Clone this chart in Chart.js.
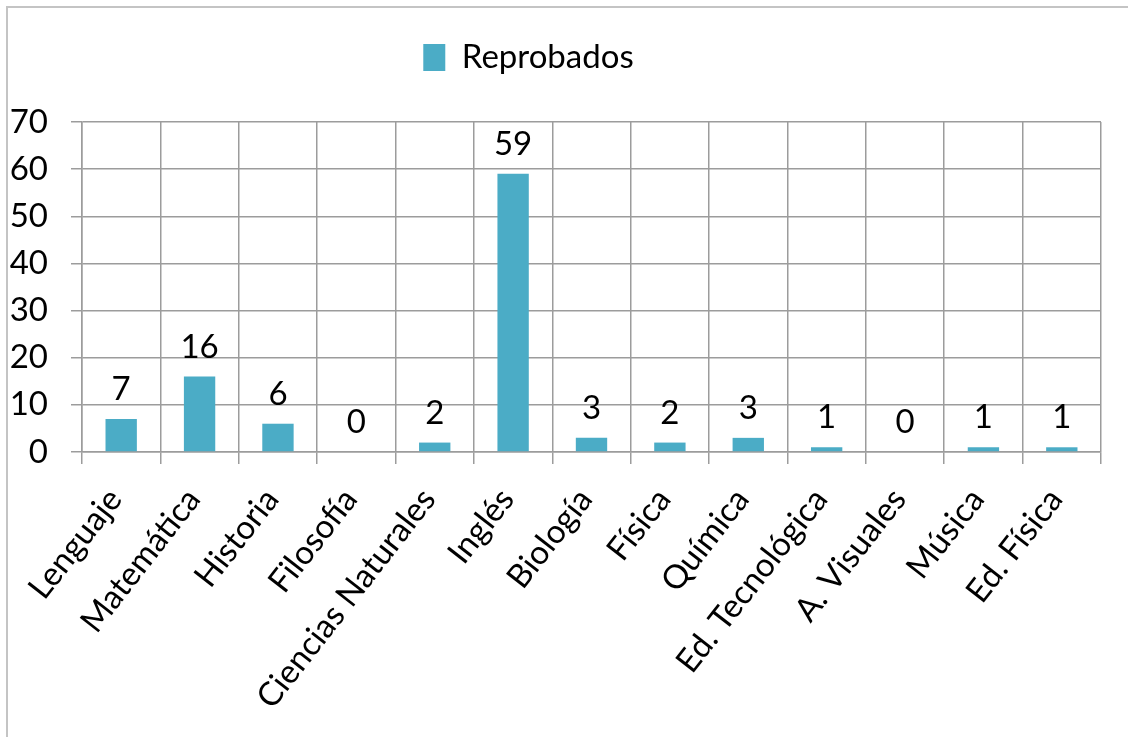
<!DOCTYPE html>
<html>
<head>
<meta charset="utf-8">
<script src="https://cdn.jsdelivr.net/npm/chart.js@4.4.1/dist/chart.umd.min.js"></script>
<style>
  body { margin: 0; background: #fff; }
  #wrap { position: relative; width: 1128px; height: 737px; overflow: hidden; }
  #frame { position: absolute; left: 6px; top: 6px; width: 1200px; height: 800px;
           border-left: 2px solid #c4c4c4; border-top: 2px solid #c4c4c4; }
  canvas { position: absolute; left: 0; top: 0; }
</style>
</head>
<body>
<div id="wrap">
  <div id="frame"></div>
  <canvas id="chart" width="1128" height="737"></canvas>
</div>
<script>
// Asignaturas y cantidad de reprobados
var subjects = ['Lenguaje', 'Matemática', 'Historia', 'Filosofía', 'Ciencias Naturales', 'Inglés',
                'Biología', 'Física', 'Química', 'Ed. Tecnológica', 'A. Visuales', 'Música', 'Ed. Física'];
var failed = [7, 16, 6, 0, 2, 59, 3, 2, 3, 1, 0, 1, 1];
var seriesName = 'Reprobados';
var yTicks = [0, 10, 20, 30, 40, 50, 60, 70];

var fontFamily = "'Lato', sans-serif";
var barColor = '#4BACC6';
var gridColor = '#9c9c9c';

// draws the number above each bar
var valueLabels = {
    id: 'valueLabels',
    afterDatasetsDraw: function (chart) {
        var ctx = chart.ctx;
        var meta = chart.getDatasetMeta(0);
        ctx.save();
        ctx.font = '33px ' + fontFamily;
        ctx.fillStyle = '#000';
        ctx.textAlign = 'center';
        ctx.textBaseline = 'alphabetic';
        meta.data.forEach(function (bar, i) {
            ctx.fillText(String(failed[i]), bar.x, bar.y - 19);
        });
        ctx.restore();
    }
};

// legend: a bit left of the centre, and more room under it
var legendTweak = {
    id: 'legendTweak',
    beforeLayout: function (chart) {
        var lg = chart.legend;
        if (lg && !lg._patched) {
            var fit = lg.fit;
            lg.fit = function () {
                fit.call(this);
                this.height += 38;
            };
            lg._patched = true;
        }
    },
    afterLayout: function (chart) {
        chart.legend.left -= 22;
        chart.legend.right -= 22;
    }
};

document.addEventListener('DOMContentLoaded', function () {
    var ctx = document.getElementById('chart').getContext('2d');
    new Chart(ctx, {
        type: 'bar',
        data: {
            labels: subjects,
            datasets: [{
                label: seriesName,
                data: failed,
                backgroundColor: barColor,
                borderWidth: 0,
                barPercentage: 0.4,
                categoryPercentage: 1.0
            }]
        },
        options: {
            responsive: false,
            animation: false,
            layout: { padding: { top: 6, right: 27, left: 0, bottom: 0 } },
            plugins: {
                tooltip: { enabled: false },
                legend: {
                    position: 'top',
                    labels: {
                        color: '#000',
                        font: { family: fontFamily, size: 33 },
                        boxWidth: 22,
                        boxHeight: 27,
                        padding: 35
                    }
                }
            },
            scales: {
                x: {
                    grid: { color: gridColor, lineWidth: 1.5, tickLength: 12, offset: true },
                    border: { color: gridColor, width: 1.5 },
                    ticks: {
                        color: '#000',
                        font: { family: fontFamily, size: 33 },
                        minRotation: 52,
                        maxRotation: 52,
                        padding: 17,
                        labelOffset: -6,
                        autoSkip: false
                    },
                    afterFit: function (scale) { scale.height = 285; }
                },
                y: {
                    min: 0,
                    max: 70,
                    afterBuildTicks: function (scale) {
                        scale.ticks = yTicks.map(function (v) { return { value: v }; });
                    },
                    grid: { color: gridColor, lineWidth: 1.5, tickLength: 11 },
                    border: { color: gridColor, width: 1.5 },
                    ticks: {
                        color: '#000',
                        font: { family: fontFamily, size: 33 },
                        padding: 23
                    },
                    afterFit: function (scale) { scale.width = 82; }
                }
            }
        },
        plugins: [valueLabels, legendTweak]
    });
});
</script>
</body>
</html>
